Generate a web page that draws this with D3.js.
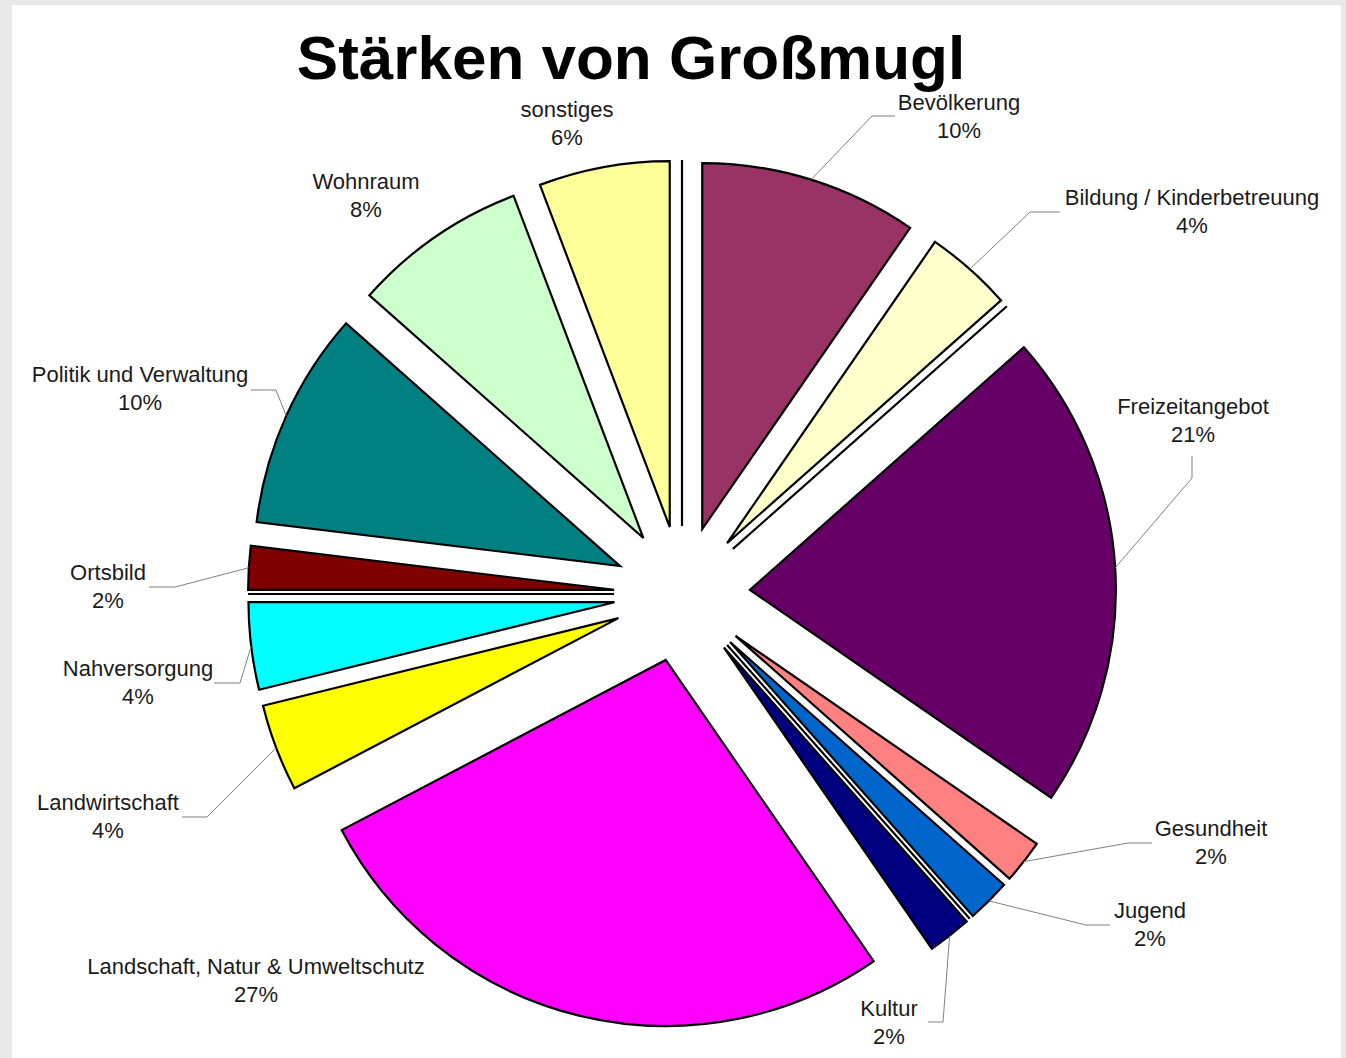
<!DOCTYPE html>
<html>
<head>
<meta charset="utf-8">
<script src="https://cdn.jsdelivr.net/npm/d3@7"></script>
<style>
    body {margin: 0; background: #e8e8e8;}
    text {font-family: "Liberation Sans", Arial, sans-serif;}
</style>
</head>
<body>
<svg id="chart" width="1346" height="1058"></svg>
<script>
// answers per category, clockwise from 12 o'clock (empty names = 0 answers, no label)
const categories = ["", "Bevölkerung", "Bildung / Kinderbetreuung", "", "Freizeitangebot", "Gesundheit",
    "Jugend", "", "Kultur", "Landschaft, Natur & Umweltschutz", "Landwirtschaft", "Nahversorgung", "",
    "Ortsbild", "Politik und Verwaltung", "Wohnraum", "sonstiges"]
const counts = [0, 5, 2, 0, 11, 1, 1, 0, 1, 14, 2, 2, 0, 1, 5, 4, 3]
const colors = ["#9999ff", "#993366", "#ffffcc", "#ccffff", "#660066", "#ff8080", "#0066cc", "#ccccff",
    "#000080", "#ff00ff", "#ffff00", "#00ffff", "#800080", "#800000", "#008080", "#ccffcc", "#ffff99"]
const title = "Stärken von Großmugl"

// label placement: text centre, first line y, leader elbow points (from slice edge)
const labelLayout = {
    "Bevölkerung": {x: 959, y: 102, leader: [[872, 116], [895, 116]]},
    "Bildung / Kinderbetreuung": {x: 1192, y: 197, leader: [[1030, 212], [1060, 212]]},
    "Freizeitangebot": {x: 1193, y: 406, leader: [[1192, 478], [1192, 456]]},
    "Gesundheit": {x: 1211, y: 828, leader: [[1128, 843], [1152, 843]]},
    "Jugend": {x: 1150, y: 910, leader: [[1086, 925], [1110, 925]]},
    "Kultur": {x: 889, y: 1008, leader: [[943, 1022], [928, 1022]]},
    "Landschaft, Natur & Umweltschutz": {x: 256, y: 966, leader: []},
    "Landwirtschaft": {x: 108, y: 802, leader: [[207, 817], [182, 817]]},
    "Nahversorgung": {x: 138, y: 668, leader: [[240, 683], [214, 683]]},
    "Ortsbild": {x: 108, y: 572, leader: [[175, 587], [149, 587]]},
    "Politik und Verwaltung": {x: 140, y: 374, leader: [[276, 390], [251, 390]]},
    "Wohnraum": {x: 366, y: 181, leader: []},
    "sonstiges": {x: 567, y: 109, leader: []}
}

const cx = 682, cy = 594, radius = 366, explode = 68

const svg = d3.select("#chart")

// white plot area inside the grey frame
svg.append("rect")
    .attr("x", 12).attr("y", 5)
    .attr("width", 1329).attr("height", 1053)
    .attr("fill", "#ffffff")

const data = categories.map((c, i) => ({name: c, value: counts[i], color: colors[i]}))
const total = d3.sum(counts)

const pie = d3.pie().sort(null).value(d => d.value)
const arcs = pie(data)
const arc = d3.arc().innerRadius(0).outerRadius(radius)

const offset = (a, r) => [r * Math.sin(a), -r * Math.cos(a)]

const g = svg.append("g").attr("transform", "translate(" + cx + "," + cy + ")")

g.selectAll("path.slice")
    .data(arcs)
    .enter()
    .append("path")
    .attr("class", "slice")
    .attr("transform", d => {
        const mid = (d.startAngle + d.endAngle) / 2
        const [dx, dy] = offset(mid, explode)
        return "translate(" + dx + "," + dy + ")"
    })
    .attr("d", arc)
    .attr("fill", d => d.data.color)
    .attr("stroke", "#000")
    .attr("stroke-width", 2.2)
    .attr("stroke-linejoin", "miter")

// leader lines
const labelled = arcs.filter(d => d.data.value > 0)
labelled.forEach(d => {
    const lay = labelLayout[d.data.name]
    if (!lay || lay.leader.length === 0) return
    const mid = (d.startAngle + d.endAngle) / 2
    const [sx, sy] = offset(mid, explode + radius)
    const pts = [[cx + sx, cy + sy]].concat(lay.leader)
    svg.append("path")
        .attr("d", d3.line()(pts))
        .attr("fill", "none")
        .attr("stroke", "#808080")
        .attr("stroke-width", 1)
})

// labels
labelled.forEach(d => {
    const lay = labelLayout[d.data.name]
    const t = svg.append("text")
        .attr("text-anchor", "middle")
        .attr("font-size", 22)
        .attr("fill", "#1a1a1a")
    t.append("tspan").attr("x", lay.x).attr("y", lay.y + 8).text(d.data.name)
    t.append("tspan").attr("x", lay.x).attr("y", lay.y + 36)
        .text(Math.round(d.data.value / total * 100) + "%")
})

svg.append("text")
    .attr("x", 631).attr("y", 79)
    .attr("text-anchor", "middle")
    .attr("font-size", 62)
    .attr("font-weight", "bold")
    .attr("fill", "#000")
    .text(title)
</script>
</body>
</html>
